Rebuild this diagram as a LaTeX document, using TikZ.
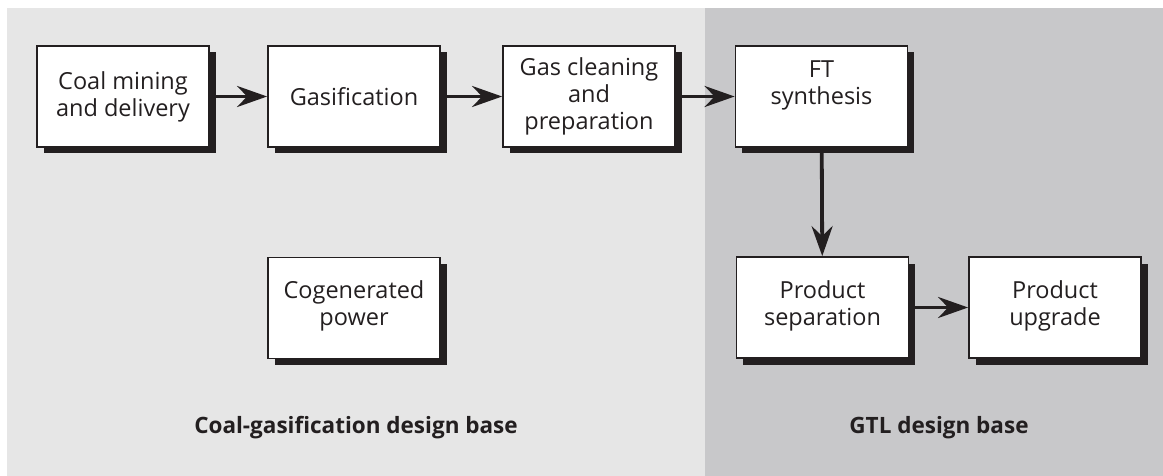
\documentclass[tikz,border=0pt]{standalone}
\usepackage{fontspec}
\setmainfont{Open Sans}
\usetikzlibrary{arrows.meta}
\definecolor{lightbg}{HTML}{E6E6E6}
\definecolor{darkbg}{HTML}{C8C8CA}
\definecolor{ink}{HTML}{231F20}
\tikzset{
  procbox/.style={draw=ink, line width=1.8pt, fill=white, minimum width=172pt, minimum height=101pt,
    align=center, text=ink, font=\fontsize{23.5}{27}\selectfont, inner sep=0pt,
    preaction={fill=ink, transform canvas={shift={(6.5pt,-6.5pt)}}}},
  flow/.style={draw=ink, line width=3.8pt, -{Stealth[length=30pt,width=21pt,inset=10pt]}},
  baselabel/.style={text=ink, font=\fontsize{22.5}{26}\selectfont\bfseries}
}
\begin{document}
\begin{tikzpicture}[x=1pt,y=-1pt]
\useasboundingbox (0,0) rectangle (1163,476);
\fill[white] (0,0) rectangle (1163,476);
\fill[lightbg] (7,8) rectangle (705,476);
\fill[darkbg] (705,8) rectangle (1163,476);
\node[procbox] (coal) at (123,96.5) {Coal mining\\and delivery};
\node[procbox] (gasif) at (354,96.5) {Gasification};
\node[procbox] (clean) at (589,96.5) {Gas cleaning\\and\\preparation};
\node[procbox] (ft) at (821.5,96.5) {FT\\synthesis\\\mbox{}};
\node[procbox] (cogen) at (354,308) {Cogenerated\\power\\[-18pt]\mbox{}};
\node[procbox] (sep) at (822.5,307.5) {Product\\separation\\[-18pt]\mbox{}};
\node[procbox] (upg) at (1055,307.5) {Product\\upgrade\\[-18pt]\mbox{}};
\draw[flow] (coal) -- (gasif);
\draw[flow] (gasif) -- (clean);
\draw[flow] (clean) -- (ft);
\draw[flow] (ft) -- (sep);
\draw[flow] (sep) -- (upg);
\node[baselabel] (lab1) at (356,428) {Coal-gasification design base};
\node[baselabel] (lab2) at (939,428) {GTL design base};
\end{tikzpicture}
\end{document}
